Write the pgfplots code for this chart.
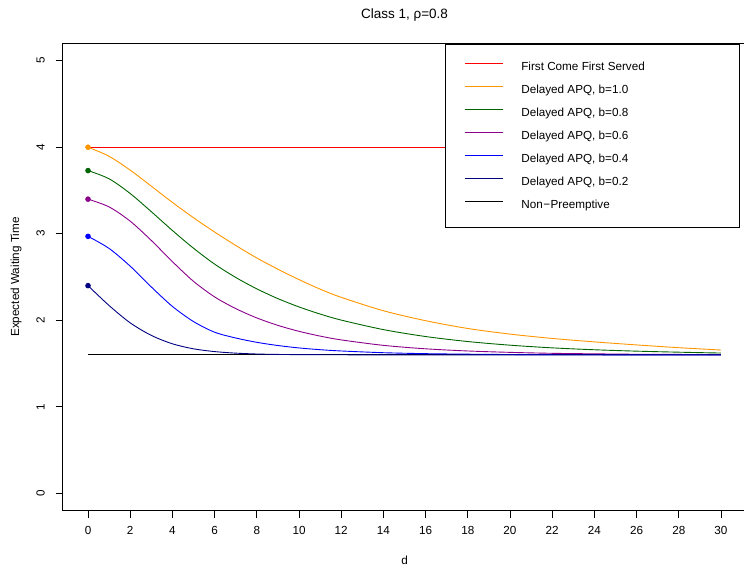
\documentclass[border=0pt]{standalone}
\usepackage{pgfplots}
\pgfplotsset{compat=1.18}
\usepackage{fontspec}
\setmainfont{Liberation Sans}
\definecolor{cOrange}{RGB}{255,150,0}
\definecolor{cGreen}{RGB}{0,100,0}
\definecolor{cPurple}{RGB}{139,0,139}
\definecolor{cBlue}{RGB}{0,0,255}
\definecolor{cNavy}{RGB}{0,0,128}
\newcommand{\lbox}[1]{\makebox[217.7pt][l]{#1}}
\begin{document}
\begin{tikzpicture}
\begin{axis}[
  at={(0pt,0pt)}, anchor=south west,
  scale only axis, width=683.6pt, height=467.2pt,
  xmin=-1.2, xmax=31.2, ymin=-0.2, ymax=5.2,
  xtick={0,2,...,30}, ytick={0,1,2,3,4,5},
  xtick pos=lower, ytick pos=left,
  tick align=outside, major tick length=7pt,
  tick style={black, line width=0.8pt},
  axis line style={black, line width=0.8pt},
  minor tick num=0,
  /pgf/number format/assume math mode=true,
  tick label style={font=\fontsize{11.7}{14}\selectfont},
  xticklabel style={anchor=north, inner sep=0pt, yshift=-8.5pt},
  yticklabel style={rotate=90, anchor=base, inner sep=0pt, yshift=11pt},
  title={Class 1, ρ=0.8},
  title style={font=\fontsize{13.5}{16}\selectfont, at={(axis description cs:0.5,1)}, anchor=base, yshift=19pt},
  xlabel={d},
  xlabel style={font=\fontsize{11.7}{14}\selectfont, at={(axis description cs:0.5,0)}, anchor=base, yshift=-53.4pt},
  ylabel={Expected Waiting Time},
  ylabel style={font=\fontsize{11.7}{14}\selectfont, at={(axis description cs:0,0.5)}, rotate=0, anchor=base, yshift=43.5pt},
  legend cell align=left,
  legend image code/.code={\path (0pt,0pt); \draw[#1, line width=0.9pt] (18.7pt,3.7pt) -- (56.4pt,3.7pt);},
  legend style={at={(axis description cs:0.5597,0.9987)}, anchor=north west,
    draw=black, line width=0.8pt, fill=white,
    inner xsep=0pt, inner ysep=16.5pt, row sep=11pt,
    font=\fontsize{11.7}{14}\selectfont,
    nodes={inner sep=0pt, text height=9.75pt, text depth=2.25pt},
    /tikz/every odd column/.append style={column sep=18.3pt}},
  every axis plot/.append style={line width=0.9pt},
]
% Non-Preemptive (drawn first, legend entry added last)
\addplot[black, forget plot] coordinates {(0,1.6) (30,1.6)};
% FCFS
\addplot[red] coordinates {(0,4) (30,4)};
\addlegendentry{\lbox{First Come First Served}}
% b = 1.0
\addplot[cOrange, smooth] coordinates {
(0,4.00) (1,3.895) (2,3.735) (3,3.55) (4,3.362) (5,3.185) (6,3.02) (7,2.865) (8,2.72) (9,2.59) (10,2.47) (11,2.36) (12,2.265) (14,2.11) (16,1.995) (18,1.905) (20,1.84) (22,1.79) (24,1.75) (26,1.715) (28,1.683) (30,1.656)};
\addlegendentry{\lbox{Delayed APQ, b=1.0}}
% b = 0.8
\addplot[cGreen, smooth] coordinates {
(0,3.73) (1,3.635) (2,3.465) (3,3.255) (4,3.0375) (5,2.8325) (6,2.649) (7,2.495) (8,2.363) (9,2.25) (10,2.154) (11,2.072) (12,2.002) (14,1.892) (16,1.812) (18,1.754) (20,1.712) (22,1.681) (24,1.659) (26,1.643) (28,1.631) (30,1.621)};
\addlegendentry{\lbox{Delayed APQ, b=0.8}}
% b = 0.6
\addplot[cPurple, smooth] coordinates {
(0,3.40) (1,3.31) (2,3.145) (3,2.9225) (4,2.6775) (5,2.45) (6,2.27) (7,2.135) (8,2.027) (9,1.941) (10,1.872) (11,1.817) (12,1.773) (14,1.71) (16,1.67) (18,1.645) (20,1.629) (22,1.618) (24,1.612) (26,1.607) (28,1.605) (30,1.603)};
\addlegendentry{\lbox{Delayed APQ, b=0.6}}
% b = 0.4
\addplot[cBlue, smooth] coordinates {
(0,2.97) (1,2.83) (2,2.625) (3,2.385) (4,2.16) (5,1.985) (6,1.862) (7,1.795) (8,1.745) (9,1.708) (10,1.68) (11,1.66) (12,1.645) (14,1.625) (16,1.614) (18,1.608) (20,1.604) (22,1.602) (24,1.601) (26,1.60) (28,1.60) (30,1.60)};
\addlegendentry{\lbox{Delayed APQ, b=0.4}}
% b = 0.2
\addplot[cNavy, smooth] coordinates {
(0,2.40) (1,2.17) (2,1.97) (3,1.825) (4,1.728) (5,1.67) (6,1.638) (7,1.62) (8,1.61) (9,1.605) (10,1.603) (11,1.602) (12,1.601) (14,1.60) (16,1.60) (18,1.60) (20,1.60) (22,1.60) (24,1.60) (26,1.60) (28,1.60) (30,1.60)};
\addlegendentry{\lbox{Delayed APQ, b=0.2}}
\addlegendimage{black}
\addlegendentry{\lbox{Non{\kern0.5pt}−{\kern0.5pt}Preemptive}}
% starting points
\addplot[only marks, mark=*, mark size=2.3pt, cOrange, forget plot] coordinates {(0,4.00)};
\addplot[only marks, mark=*, mark size=2.3pt, cGreen, forget plot] coordinates {(0,3.73)};
\addplot[only marks, mark=*, mark size=2.3pt, cPurple, forget plot] coordinates {(0,3.40)};
\addplot[only marks, mark=*, mark size=2.3pt, cBlue, forget plot] coordinates {(0,2.97)};
\addplot[only marks, mark=*, mark size=2.3pt, cNavy, forget plot] coordinates {(0,2.40)};
\end{axis}
\pgfresetboundingbox
\path (-62.7pt,-54.4pt) rectangle (681.3pt,510.6pt);
\end{tikzpicture}
\end{document}
